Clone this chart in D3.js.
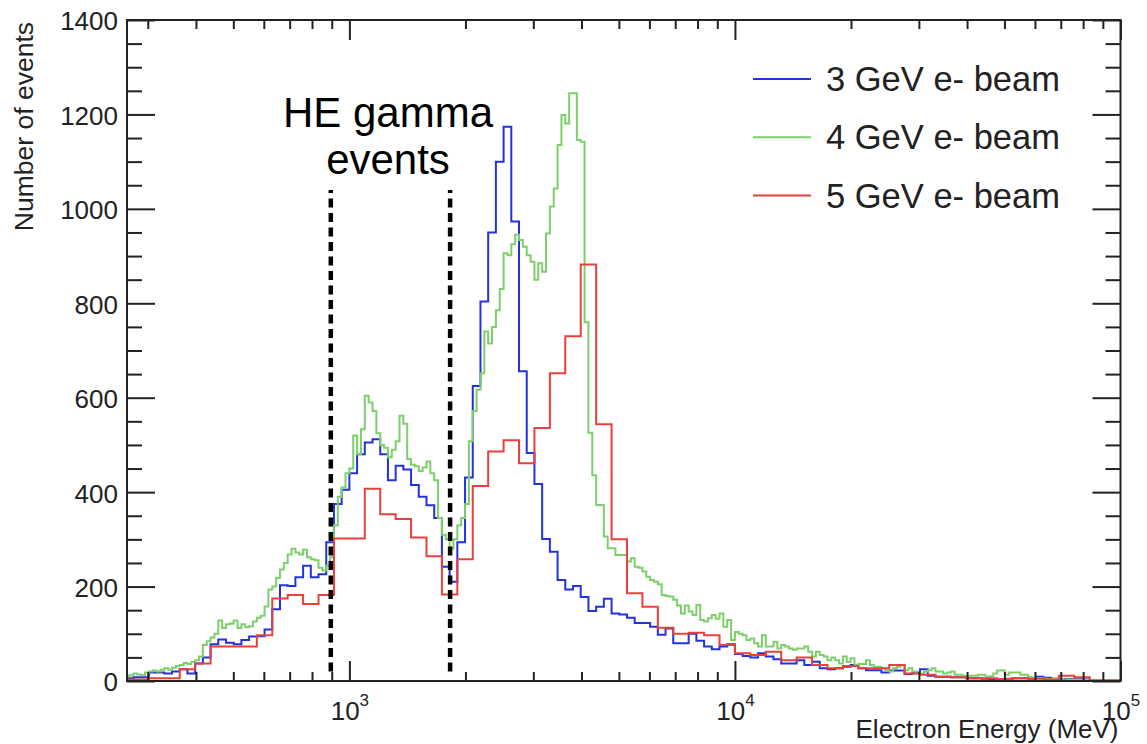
<!DOCTYPE html>
<html>
<head>
<meta charset="utf-8">
<title>Electron energy spectra</title>
<script src="https://cdn.jsdelivr.net/npm/d3@7"></script>
<style>
  body { margin: 0; background: #fff; }
  svg { display: block; font-family: "Liberation Sans", Arial, Helvetica, sans-serif; }
  .axis text { font-size: 26px; fill: #222; }
  .axis line { stroke: #222; stroke-width: 2; }
  .hist { fill: none; stroke-width: 2; }
</style>
</head>
<body>
<div id="chart"></div>
<script>
"use strict";

// legend / series
var seriesNames = ["3 GeV e- beam", "4 GeV e- beam", "5 GeV e- beam"];
var seriesColors = ["#2233dd", "#7dcf6c", "#e8413c"];

// log binning of each histogram: first lower edge (log10 MeV) and bins per decade
var binStartLog = [2.42, 2.42, 2.40];
var binsPerDecade = [50, 100, 25];

// counts per bin
var counts3GeV = [
  6, 8, 8, 18, 18, 16, 20, 25, 16, 37,
  50, 78, 88, 81, 78, 87, 94, 95, 109, 152,
  203, 201, 220, 244, 220, 226, 294, 375, 405, 440,
  480, 505, 512, 480, 425, 456, 448, 415, 390, 372,
  345, 242, 210, 294, 431, 625, 804, 950, 1100, 1174,
  973, 656, 483, 417, 301, 274, 214, 194, 201, 178,
  148, 157, 174, 143, 141, 134, 123, 123, 115, 98,
  111, 80, 80, 100, 85, 73, 67, 73, 78, 57,
  53, 50, 59, 52, 46, 37, 37, 44, 34, 41,
  27, 25, 27, 30, 34, 27, 23, 23, 18, 22,
  22, 15, 18, 25, 11, 9, 9, 8, 8, 6,
  6, 5, 4, 3, 5, 6, 6, 5, 9, 7,
  5, 3, 4, 4, 3, 2, 1, 1, 1
];

var counts4GeV = [
  10, 12, 16, 14, 12, 18, 20, 22, 20, 24,
  27, 24, 28, 32, 34, 38, 36, 40, 44, 52,
  76, 84, 92, 100, 128, 112, 120, 122, 128, 112,
  120, 114, 116, 126, 134, 138, 158, 194, 200, 218,
  236, 250, 268, 280, 272, 268, 278, 262, 258, 256,
  240, 234, 244, 262, 330, 390, 410, 440, 450, 520,
  480, 533, 604, 590, 572, 525, 500, 494, 474, 490,
  508, 562, 545, 470, 458, 455, 445, 452, 465, 440,
  425, 345, 310, 300, 280, 300, 330, 345, 375, 508,
  572, 617, 652, 740, 715, 750, 785, 830, 906, 902,
  925, 945, 934, 920, 902, 888, 850, 885, 867, 948,
  1005, 1043, 1135, 1199, 1181, 1245, 1245, 1146, 1142, 760,
  526, 436, 373, 373, 306, 281, 281, 267, 267, 267,
  253, 260, 242, 240, 232, 221, 214, 210, 205, 182,
  180, 179, 172, 160, 143, 160, 147, 140, 161, 129,
  126, 133, 140, 132, 143, 115, 129, 87, 104, 100,
  97, 87, 90, 80, 73, 97, 73, 73, 83, 69,
  76, 73, 69, 66, 69, 69, 73, 62, 52, 62,
  55, 52, 44, 50, 44, 37, 52, 40, 48, 34,
  36, 36, 44, 34, 30, 30, 27, 23, 20, 27,
  30, 34, 23, 27, 20, 16, 16, 20, 23, 27,
  20, 20, 16, 18, 20, 13, 13, 11, 9, 11,
  11, 13, 13, 9, 10, 16, 22, 22, 13, 18,
  18, 18, 13, 13, 9, 6, 6, 6, 5, 4,
  4, 4, 2, 1, 3, 3, 3, 3, 2, 2,
  2, 2, 2, 2, 2, 2, 2, 2
];

var counts5GeV = [
  3, 3, 6, 6, 25, 37, 73, 73, 73, 97,
  175, 182, 163, 182, 302, 302, 407, 353, 343, 304,
  264, 183, 258, 413, 486, 510, 461, 536, 652, 730,
  882, 544, 300, 186, 157, 113, 100, 102, 97, 76,
  59, 55, 62, 44, 50, 34, 27, 32, 27, 27,
  34, 16, 13, 9, 8, 6, 6, 4, 6, 5,
  3, 11, 8, 1, 1
];

// axes
var xRange = [265, 100000];
var xMajorTicks = [1000, 10000, 100000];
var xMinorTicks = [300, 400, 500, 600, 700, 800, 900,
  2000, 3000, 4000, 5000, 6000, 7000, 8000, 9000,
  20000, 30000, 40000, 50000, 60000, 70000, 80000, 90000];
var yMajorTicks = [0, 200, 400, 600, 800, 1000, 1200, 1400];
var yMinorTicks = [50, 100, 150, 250, 300, 350, 450, 500, 550, 650, 700, 750,
  850, 900, 950, 1050, 1100, 1150, 1250, 1300, 1350];

// HE gamma window
var gammaCuts = [895, 1825];
var gammaCutSpan = [20, 1040];
var gammaLabel = ["HE gamma", "events"];

function histPoints(counts, startLog, perDecade) {
  var pts = counts.map(function (c, i) {
    return [Math.pow(10, startLog + i / perDecade), c];
  });
  pts.push([Math.pow(10, startLog + counts.length / perDecade), counts[counts.length - 1]]);
  return pts;
}

function drawChart(w, h) {
  var left = 127, right = 1120.5, top = 20, bottom = 681;

  var xScale = d3.scaleLog().domain(xRange).range([left, right]);
  var yScale = d3.scaleLinear().domain([0, 1400]).range([bottom, top]);

  var svg = d3.select("#chart")
    .append("svg")
    .attr("width", w)
    .attr("height", h);

  svg.append("rect")
    .attr("width", w)
    .attr("height", h)
    .attr("fill", "#fff");

  svg.append("clipPath")
    .attr("id", "plotClip")
    .append("rect")
    .attr("x", left)
    .attr("y", top)
    .attr("width", right - left)
    .attr("height", bottom - top);

  //histograms
  var line = d3.line()
    .x(function (d) { return xScale(d[0]); })
    .y(function (d) { return yScale(d[1]); })
    .curve(d3.curveStepAfter);

  var allCounts = [counts3GeV, counts4GeV, counts5GeV];
  var hists = svg.append("g").attr("clip-path", "url(#plotClip)");
  allCounts.forEach(function (counts, s) {
    hists.append("path")
      .datum(histPoints(counts, binStartLog[s], binsPerDecade[s]))
      .attr("class", "hist")
      .attr("stroke", seriesColors[s])
      .attr("d", line);
  });

  //dashed HE gamma window
  svg.selectAll(".cut")
    .data(gammaCuts)
    .enter()
    .append("line")
    .attr("class", "cut")
    .attr("x1", function (d) { return xScale(d); })
    .attr("x2", function (d) { return xScale(d); })
    .attr("y1", yScale(gammaCutSpan[0]))
    .attr("y2", yScale(gammaCutSpan[1]))
    .attr("stroke", "#000")
    .attr("stroke-width", 4.5)
    .attr("stroke-dasharray", "9 5.5");

  svg.selectAll(".gammaLabel")
    .data(gammaLabel)
    .enter()
    .append("text")
    .attr("class", "gammaLabel")
    .attr("x", 388)
    .attr("y", function (d, i) { return 127 + i * 47; })
    .attr("text-anchor", "middle")
    .attr("font-size", 42)
    .attr("fill", "#000")
    .text(function (d) { return d; });

  //axes, ticks pointing into the frame
  function noDomain(g) { g.select(".domain").remove(); }

  svg.append("g").attr("class", "axis")
    .attr("transform", "translate(" + left + ",0)")
    .call(d3.axisLeft(yScale).tickValues(yMajorTicks).tickSize(-28).tickPadding(9).tickFormat(d3.format("d")))
    .call(noDomain)
    .selectAll("text").attr("dy", "0.38em");
  svg.append("g").attr("class", "axis")
    .attr("transform", "translate(" + left + ",0)")
    .call(d3.axisLeft(yScale).tickValues(yMinorTicks).tickSize(-15).tickFormat(""))
    .call(noDomain);
  svg.append("g").attr("class", "axis")
    .attr("transform", "translate(" + right + ",0)")
    .call(d3.axisRight(yScale).tickValues(yMajorTicks).tickSize(-28).tickFormat(""))
    .call(noDomain);
  svg.append("g").attr("class", "axis")
    .attr("transform", "translate(" + right + ",0)")
    .call(d3.axisRight(yScale).tickValues(yMinorTicks).tickSize(-15).tickFormat(""))
    .call(noDomain);

  var xBottom = svg.append("g").attr("class", "axis")
    .attr("transform", "translate(0," + bottom + ")")
    .call(d3.axisBottom(xScale).tickValues(xMajorTicks).tickSize(-20).tickFormat(function () { return ""; }))
    .call(noDomain);
  xBottom.selectAll("text")
    .attr("y", 39)
    .attr("dy", null)
    .each(function (d) {
      var t = d3.select(this);
      t.append("tspan").text("10");
      t.append("tspan")
        .attr("dy", -14)
        .attr("font-size", 17)
        .text(Math.round(Math.log10(d)));
    });
  svg.append("g").attr("class", "axis")
    .attr("transform", "translate(0," + bottom + ")")
    .call(d3.axisBottom(xScale).tickValues(xMinorTicks).tickSize(-9).tickFormat(""))
    .call(noDomain);
  svg.append("g").attr("class", "axis")
    .attr("transform", "translate(0," + top + ")")
    .call(d3.axisTop(xScale).tickValues(xMajorTicks).tickSize(-20).tickFormat(""))
    .call(noDomain);
  svg.append("g").attr("class", "axis")
    .attr("transform", "translate(0," + top + ")")
    .call(d3.axisTop(xScale).tickValues(xMinorTicks).tickSize(-9).tickFormat(""))
    .call(noDomain);

  //frame
  svg.append("rect")
    .attr("x", left)
    .attr("y", top)
    .attr("width", right - left)
    .attr("height", bottom - top)
    .attr("fill", "none")
    .attr("stroke", "#222")
    .attr("stroke-width", 2);

  //axis titles
  svg.append("text")
    .attr("x", right - 2)
    .attr("y", 738)
    .attr("text-anchor", "end")
    .attr("font-size", 26)
    .attr("fill", "#222")
    .text("Electron Energy (MeV)");

  svg.append("text")
    .attr("transform", "translate(33,22) rotate(-90)")
    .attr("text-anchor", "end")
    .attr("font-size", 26.5)
    .attr("fill", "#222")
    .text("Number of events");

  //legend
  var legend = svg.selectAll(".legendItem")
    .data(seriesNames)
    .enter()
    .append("g")
    .attr("class", "legendItem")
    .attr("transform", function (d, i) { return "translate(753," + (79 + i * 58.3) + ")"; });
  legend.append("line")
    .attr("x1", 0)
    .attr("x2", 58)
    .attr("stroke", function (d, i) { return seriesColors[i]; })
    .attr("stroke-width", 2);
  legend.append("text")
    .attr("x", 73)
    .attr("y", 12)
    .attr("font-size", 34.5)
    .attr("fill", "#222")
    .text(function (d) { return d; });
}

function init() {
  drawChart(1147, 744);
}

window.onload = init;
</script>
</body>
</html>
